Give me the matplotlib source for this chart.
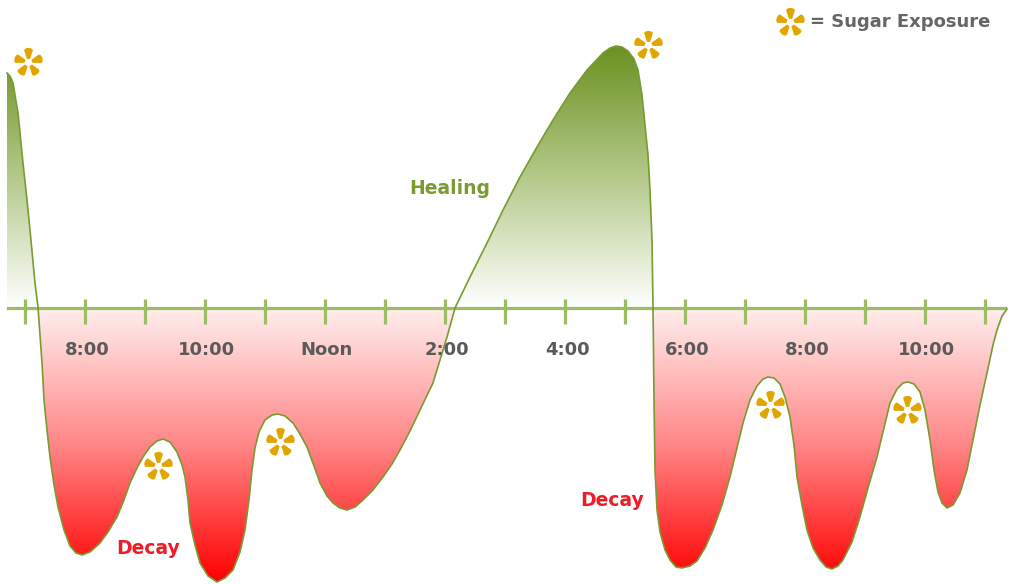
import numpy as np
from matplotlib import pyplot as plt
from matplotlib.path import Path
from matplotlib.colors import LinearSegmentedColormap

# x = minutes after 7:00 am, y = mineral balance level (+ healing / - decay)
minutes = [-18, -15, -12, -7, -2, 2, 5, 10, 13, 17, 19, 22, 25, 29, 33, 39, 45, 51, 57,
           65, 75, 83, 92, 99, 105, 112, 118, 125, 132, 138, 145, 152, 157, 160, 163,
           165, 170, 175, 183, 192, 200, 208, 215, 220, 224, 227, 230, 234, 240, 247,
           253, 260, 268, 275, 282, 289, 295, 302, 308, 315, 322, 330, 338, 348, 358,
           367, 375, 385, 395, 408, 422, 430, 445, 462, 478, 495, 512, 528, 545, 562,
           578, 585, 591, 597, 603, 609, 613, 617, 620, 623, 625, 627, 628, 629, 630,
           632, 635, 640, 645, 651, 657, 665, 672, 680, 688, 697, 705, 712, 718, 725,
           732, 738, 743, 749, 755, 760, 765, 769, 772, 777, 782, 788, 795, 801, 807,
           813, 818, 827, 835, 843, 852, 859, 865, 872, 878, 883, 889, 895, 900, 905,
           909, 913, 917, 922, 928, 935, 942, 948, 955, 962, 968, 972, 977, 982]
level = [235, 232, 225, 195, 145, 108, 78, 25, 1, -55, -92, -122, -149, -177, -199, -222,
         -238, -245, -247, -244, -235, -224, -209, -192, -175, -160, -149, -139, -133,
         -131, -134, -144, -157, -169, -192, -215, -237, -255, -268, -274, -270, -262,
         -244, -222, -192, -162, -140, -124, -112, -107, -106, -108, -115, -126, -139,
         -158, -175, -188, -195, -200, -202, -199, -192, -182, -169, -156, -142, -123,
         -102, -75, -29, 0, 31, 65, 98, 131, 161, 188, 215, 238, 255, 260, 262, 261, 257,
         249, 238, 213, 183, 153, 118, 68, 1, -92, -162, -202, -224, -242, -252, -259,
         -260, -258, -253, -240, -222, -197, -169, -140, -115, -92, -78, -71, -69, -70,
         -76, -89, -109, -137, -169, -197, -222, -240, -252, -259, -261, -258, -252,
         -234, -209, -180, -149, -120, -95, -81, -75, -74, -76, -84, -102, -132, -162,
         -184, -195, -200, -197, -185, -162, -132, -97, -65, -37, -22, -8, -1]

tick_minutes = list(range(0, 961, 60))
label_minutes = [60, 180, 300, 420, 540, 660, 780, 900]
labels = ["8:00", "10:00", "Noon", "2:00", "4:00", "6:00", "8:00", "10:00"]

# sugar exposures
sugar_minutes = [3, 623, 133, 255, 745, 882]
sugar_level = [246, 263, -158, -134, -97, -102]

GOLD = "#E1A500"
LINE = "#7A9A32"
AXIS = "#9BBE64"


def sugar_marker():
    # five petals around a small hole
    verts, codes = [], []
    t = np.linspace(-np.pi / 2, np.pi / 2, 7)
    local = [(0.25, -0.11), (0.84, -0.3)]
    local += [(0.84 + 0.16 * np.cos(a), 0.3 * np.sin(a)) for a in t]
    local += [(0.84, 0.3), (0.25, 0.11)]
    for k in range(5):
        a = np.deg2rad(90 + 72 * k)
        c, s = np.cos(a), np.sin(a)
        pts = [(r * c - w * s, r * s + w * c) for r, w in local]
        verts += pts + [pts[0]]
        codes += [Path.MOVETO] + [Path.LINETO] * (len(pts) - 1) + [Path.CLOSEPOLY]
    return Path(verts, codes)


x = np.array(minutes)
y = np.array(level)

fig = plt.figure(figsize=(10.09, 5.84), dpi=100)
ax = fig.add_axes([0, 0, 1, 1])
xlim = (-25, 984)
ylim = (-276, 308)

green = LinearSegmentedColormap.from_list("g", ["#ffffff", "#b4c98a", "#6b9120"])
red = LinearSegmentedColormap.from_list("r", ["#ffeeee", "#ff8686", "#ff0000"])
grad = np.linspace(0, 1, 256).reshape(-1, 1)

top = ax.fill_between(x, np.maximum(y, 0), 0, facecolor="none", edgecolor="none")
im = ax.imshow(grad, extent=[xlim[0], xlim[1], 0, 262], origin="lower",
               aspect="auto", cmap=green, zorder=1)
im.set_clip_path(top.get_paths()[0], transform=ax.transData)

bot = ax.fill_between(x, np.minimum(y, 0), 0, facecolor="none", edgecolor="none")
im2 = ax.imshow(grad, extent=[xlim[0], xlim[1], -274, 0], origin="upper",
                aspect="auto", cmap=red, zorder=1)
im2.set_clip_path(bot.get_paths()[0], transform=ax.transData)

# baseline with hour ticks
ax.axhline(0, xmin=8 / 1009, xmax=1005 / 1009, color=AXIS, lw=2.3, zorder=2)
ax.vlines(tick_minutes, -16, 9, color=AXIS, lw=2.3, zorder=2)
for m, lab in zip(label_minutes, labels):
    ax.text(m + 2, -42, lab, ha="center", va="center", fontsize=13,
            fontweight="bold", color="#5a5a5a", zorder=4)

ax.plot(x, y, color=LINE, lw=1.2, zorder=3, solid_joinstyle="round")

ax.plot(sugar_minutes, sugar_level, ls="none", marker=sugar_marker(),
        markersize=21, color=GOLD, markeredgewidth=0, zorder=5)

ax.text(425, 120, "Healing", ha="center", va="center", fontsize=13.5,
        fontweight="bold", color="#7A9A32")
ax.text(123, -240, "Decay", ha="center", va="center", fontsize=13.5,
        fontweight="bold", color="#EE1C25")
ax.text(587, -193, "Decay", ha="center", va="center", fontsize=13.5,
        fontweight="bold", color="#EE1C25")

# legend
ax.plot([765], [286], ls="none", marker=sugar_marker(), markersize=21,
        color=GOLD, markeredgewidth=0)
ax.text(785, 286, "= Sugar Exposure", ha="left", va="center", fontsize=13,
        fontweight="bold", color="#666666")

ax.set_xlim(*xlim)
ax.set_ylim(*ylim)
ax.axis("off")

fig.savefig("out.png", dpi=100)
